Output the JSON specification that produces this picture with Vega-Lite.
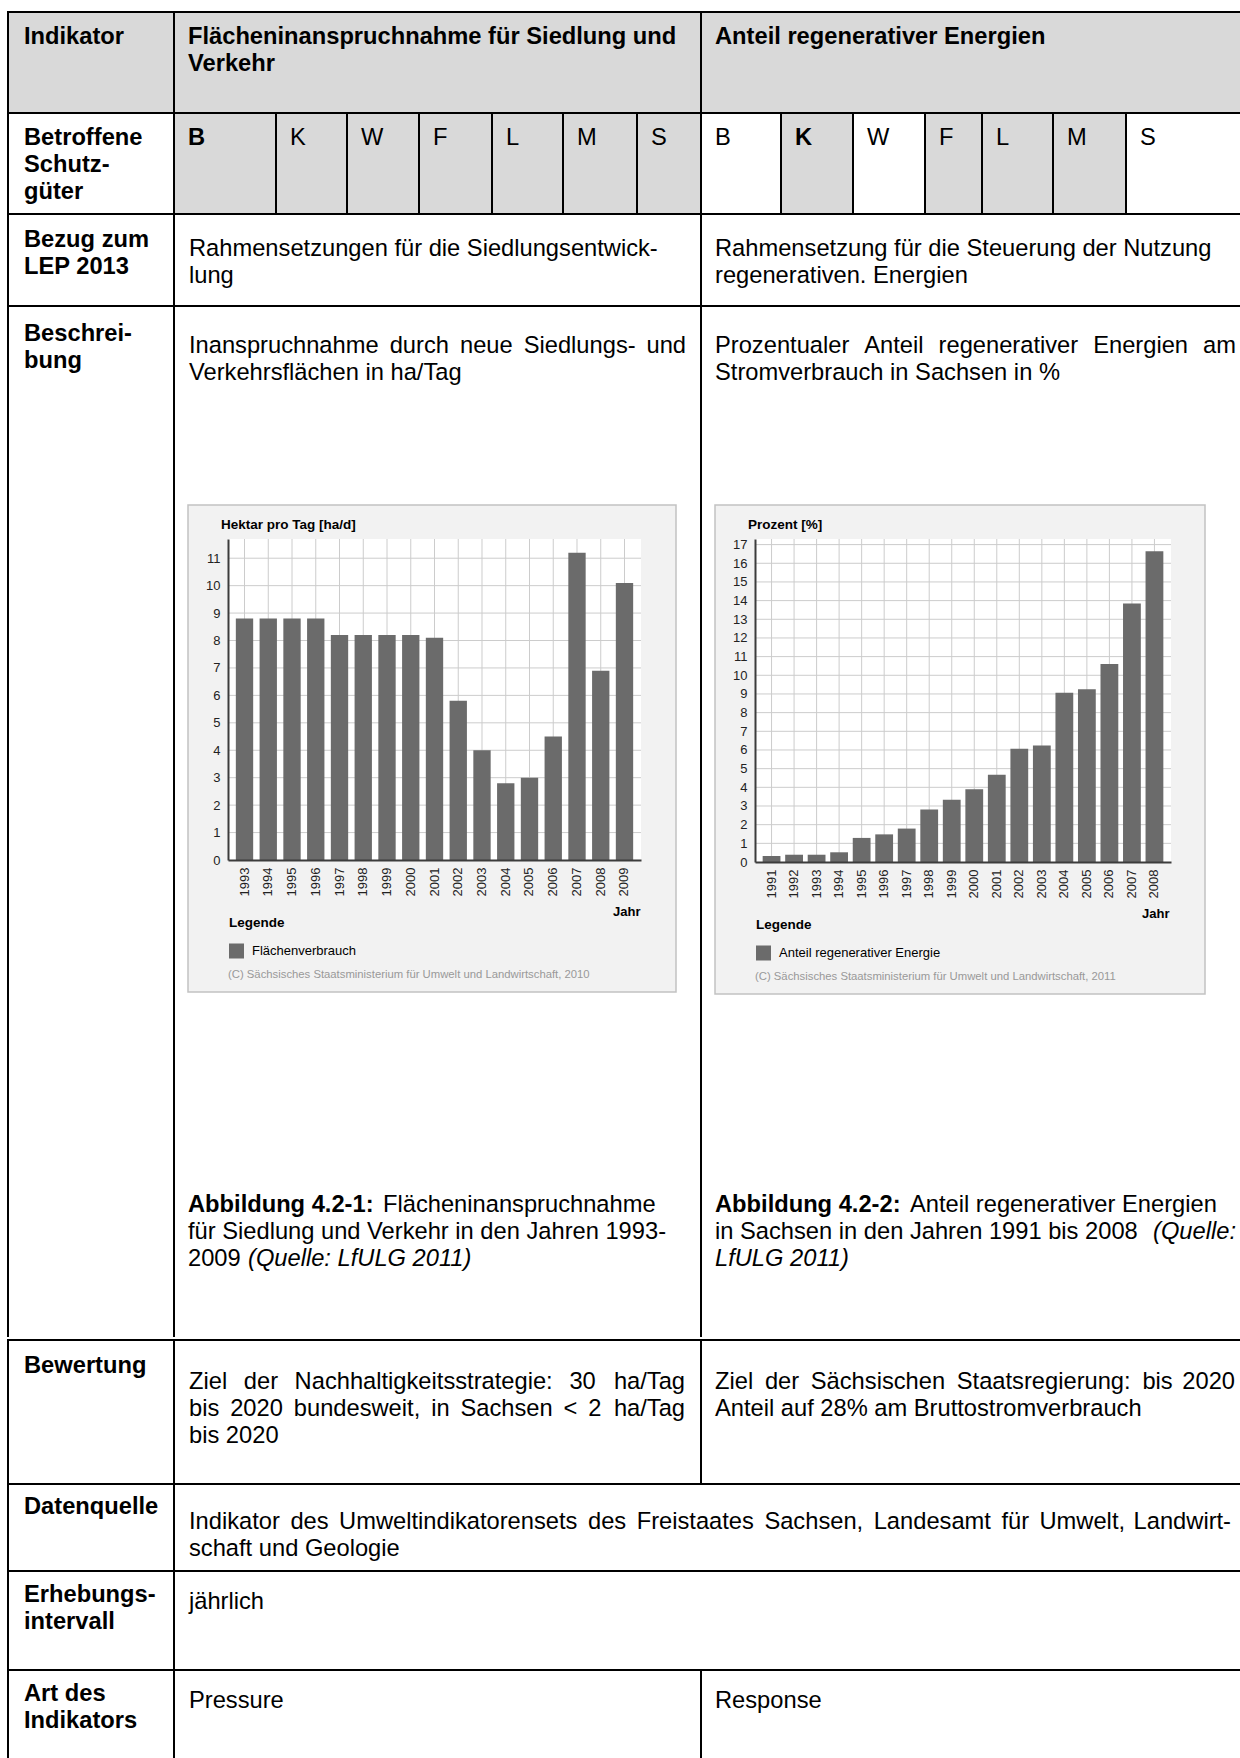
{
  "$schema": "https://vega.github.io/schema/vega-lite/v6.json",
  "background": "#ffffff",
  "padding": {"left": 7, "top": 11, "right": 0, "bottom": 0},
  "spacing": 0,
  "resolve": {"scale": {"color": "independent"}},
  "datasets": {
    "flaeche": [
      {"Jahr": "1993", "Wert": 8.8, "Reihe": "Flächenverbrauch"},
      {"Jahr": "1994", "Wert": 8.8, "Reihe": "Flächenverbrauch"},
      {"Jahr": "1995", "Wert": 8.8, "Reihe": "Flächenverbrauch"},
      {"Jahr": "1996", "Wert": 8.8, "Reihe": "Flächenverbrauch"},
      {"Jahr": "1997", "Wert": 8.2, "Reihe": "Flächenverbrauch"},
      {"Jahr": "1998", "Wert": 8.2, "Reihe": "Flächenverbrauch"},
      {"Jahr": "1999", "Wert": 8.2, "Reihe": "Flächenverbrauch"},
      {"Jahr": "2000", "Wert": 8.2, "Reihe": "Flächenverbrauch"},
      {"Jahr": "2001", "Wert": 8.1, "Reihe": "Flächenverbrauch"},
      {"Jahr": "2002", "Wert": 5.8, "Reihe": "Flächenverbrauch"},
      {"Jahr": "2003", "Wert": 4.0, "Reihe": "Flächenverbrauch"},
      {"Jahr": "2004", "Wert": 2.8, "Reihe": "Flächenverbrauch"},
      {"Jahr": "2005", "Wert": 3.0, "Reihe": "Flächenverbrauch"},
      {"Jahr": "2006", "Wert": 4.5, "Reihe": "Flächenverbrauch"},
      {"Jahr": "2007", "Wert": 11.2, "Reihe": "Flächenverbrauch"},
      {"Jahr": "2008", "Wert": 6.9, "Reihe": "Flächenverbrauch"},
      {"Jahr": "2009", "Wert": 10.1, "Reihe": "Flächenverbrauch"}
    ],
    "energie": [
      {"Jahr": "1991", "Wert": 0.32, "Reihe": "Anteil regenerativer Energie"},
      {"Jahr": "1992", "Wert": 0.39, "Reihe": "Anteil regenerativer Energie"},
      {"Jahr": "1993", "Wert": 0.39, "Reihe": "Anteil regenerativer Energie"},
      {"Jahr": "1994", "Wert": 0.52, "Reihe": "Anteil regenerativer Energie"},
      {"Jahr": "1995", "Wert": 1.29, "Reihe": "Anteil regenerativer Energie"},
      {"Jahr": "1996", "Wert": 1.48, "Reihe": "Anteil regenerativer Energie"},
      {"Jahr": "1997", "Wert": 1.79, "Reihe": "Anteil regenerativer Energie"},
      {"Jahr": "1998", "Wert": 2.81, "Reihe": "Anteil regenerativer Energie"},
      {"Jahr": "1999", "Wert": 3.33, "Reihe": "Anteil regenerativer Energie"},
      {"Jahr": "2000", "Wert": 3.9, "Reihe": "Anteil regenerativer Energie"},
      {"Jahr": "2001", "Wert": 4.67, "Reihe": "Anteil regenerativer Energie"},
      {"Jahr": "2002", "Wert": 6.07, "Reihe": "Anteil regenerativer Energie"},
      {"Jahr": "2003", "Wert": 6.24, "Reihe": "Anteil regenerativer Energie"},
      {"Jahr": "2004", "Wert": 9.07, "Reihe": "Anteil regenerativer Energie"},
      {"Jahr": "2005", "Wert": 9.25, "Reihe": "Anteil regenerativer Energie"},
      {"Jahr": "2006", "Wert": 10.6, "Reihe": "Anteil regenerativer Energie"},
      {"Jahr": "2007", "Wert": 13.85, "Reihe": "Anteil regenerativer Energie"},
      {"Jahr": "2008", "Wert": 16.65, "Reihe": "Anteil regenerativer Energie"}
    ]
  },
  "config": {
    "view": {"stroke": null},
    "concat": {"spacing": 0},
    "font": "Liberation Sans",
    "text": {"font": "Liberation Sans", "fontSize": 23.7, "align": "left", "baseline": "alphabetic", "color": "#000000", "lineHeight": 27, "lineBreak": "\n"},
    "axis": {"labelFont": "Liberation Sans", "titleFont": "Liberation Sans"},
    "legend": {"labelFont": "Liberation Sans", "titleFont": "Liberation Sans"}
  },
  "vconcat": [
    {"width": 1233, "height": 2, "view": {"fill": "#000000"}, "data": {"values": []}, "mark": "point"},
    {
      "spacing": 0,
      "hconcat": [
        {"width": 2, "height": 99, "view": {"fill": "#000000"}, "data": {"values": []}, "mark": "point"},
        {"width": 164, "height": 99, "view": {"fill": "#d9d9d9"}, "data": {"values": [{"t": "Indikator"}]}, "mark": {"type": "text", "x": 15, "y": 31, "fontWeight": "bold"}, "encoding": {"text": {"field": "t", "type": "nominal"}}},
        {"width": 2, "height": 99, "view": {"fill": "#000000"}, "data": {"values": []}, "mark": "point"},
        {"width": 525, "height": 99, "view": {"fill": "#d9d9d9"}, "data": {"values": [{"t": "Flächeninanspruchnahme für Siedlung und\nVerkehr"}]}, "mark": {"type": "text", "x": 13, "y": 31, "fontWeight": "bold"}, "encoding": {"text": {"field": "t", "type": "nominal"}}},
        {"width": 2, "height": 99, "view": {"fill": "#000000"}, "data": {"values": []}, "mark": "point"},
        {"width": 538, "height": 99, "view": {"fill": "#d9d9d9"}, "data": {"values": [{"t": "Anteil regenerativer Energien"}]}, "mark": {"type": "text", "x": 13, "y": 31, "fontWeight": "bold"}, "encoding": {"text": {"field": "t", "type": "nominal"}}}
      ]
    },
    {"width": 1233, "height": 2, "view": {"fill": "#000000"}, "data": {"values": []}, "mark": "point"},
    {
      "spacing": 0,
      "hconcat": [
        {"width": 2, "height": 99, "view": {"fill": "#000000"}, "data": {"values": []}, "mark": "point"},
        {"width": 164, "height": 99, "data": {"values": [{"t": "Betroffene\nSchutz-\ngüter"}]}, "mark": {"type": "text", "x": 15, "y": 31, "fontWeight": "bold"}, "encoding": {"text": {"field": "t", "type": "nominal"}}},
        {"width": 2, "height": 99, "view": {"fill": "#000000"}, "data": {"values": []}, "mark": "point"},
        {"width": 100, "height": 99, "view": {"fill": "#d9d9d9"}, "data": {"values": [{"t": "B"}]}, "mark": {"type": "text", "x": 13, "y": 31, "fontWeight": "bold"}, "encoding": {"text": {"field": "t", "type": "nominal"}}},
        {"width": 2, "height": 99, "view": {"fill": "#000000"}, "data": {"values": []}, "mark": "point"},
        {"width": 69, "height": 99, "view": {"fill": "#d9d9d9"}, "data": {"values": [{"t": "K"}]}, "mark": {"type": "text", "x": 13, "y": 31}, "encoding": {"text": {"field": "t", "type": "nominal"}}},
        {"width": 2, "height": 99, "view": {"fill": "#000000"}, "data": {"values": []}, "mark": "point"},
        {"width": 70, "height": 99, "view": {"fill": "#d9d9d9"}, "data": {"values": [{"t": "W"}]}, "mark": {"type": "text", "x": 13, "y": 31}, "encoding": {"text": {"field": "t", "type": "nominal"}}},
        {"width": 2, "height": 99, "view": {"fill": "#000000"}, "data": {"values": []}, "mark": "point"},
        {"width": 71, "height": 99, "view": {"fill": "#d9d9d9"}, "data": {"values": [{"t": "F"}]}, "mark": {"type": "text", "x": 13, "y": 31}, "encoding": {"text": {"field": "t", "type": "nominal"}}},
        {"width": 2, "height": 99, "view": {"fill": "#000000"}, "data": {"values": []}, "mark": "point"},
        {"width": 69, "height": 99, "view": {"fill": "#d9d9d9"}, "data": {"values": [{"t": "L"}]}, "mark": {"type": "text", "x": 13, "y": 31}, "encoding": {"text": {"field": "t", "type": "nominal"}}},
        {"width": 2, "height": 99, "view": {"fill": "#000000"}, "data": {"values": []}, "mark": "point"},
        {"width": 72, "height": 99, "view": {"fill": "#d9d9d9"}, "data": {"values": [{"t": "M"}]}, "mark": {"type": "text", "x": 13, "y": 31}, "encoding": {"text": {"field": "t", "type": "nominal"}}},
        {"width": 2, "height": 99, "view": {"fill": "#000000"}, "data": {"values": []}, "mark": "point"},
        {"width": 62, "height": 99, "view": {"fill": "#d9d9d9"}, "data": {"values": [{"t": "S"}]}, "mark": {"type": "text", "x": 13, "y": 31}, "encoding": {"text": {"field": "t", "type": "nominal"}}},
        {"width": 2, "height": 99, "view": {"fill": "#000000"}, "data": {"values": []}, "mark": "point"},
        {"width": 78, "height": 99, "data": {"values": [{"t": "B"}]}, "mark": {"type": "text", "x": 13, "y": 31}, "encoding": {"text": {"field": "t", "type": "nominal"}}},
        {"width": 2, "height": 99, "view": {"fill": "#000000"}, "data": {"values": []}, "mark": "point"},
        {"width": 70, "height": 99, "view": {"fill": "#d9d9d9"}, "data": {"values": [{"t": "K"}]}, "mark": {"type": "text", "x": 13, "y": 31, "fontWeight": "bold"}, "encoding": {"text": {"field": "t", "type": "nominal"}}},
        {"width": 2, "height": 99, "view": {"fill": "#000000"}, "data": {"values": []}, "mark": "point"},
        {"width": 70, "height": 99, "data": {"values": [{"t": "W"}]}, "mark": {"type": "text", "x": 13, "y": 31}, "encoding": {"text": {"field": "t", "type": "nominal"}}},
        {"width": 2, "height": 99, "view": {"fill": "#000000"}, "data": {"values": []}, "mark": "point"},
        {"width": 55, "height": 99, "view": {"fill": "#d9d9d9"}, "data": {"values": [{"t": "F"}]}, "mark": {"type": "text", "x": 13, "y": 31}, "encoding": {"text": {"field": "t", "type": "nominal"}}},
        {"width": 2, "height": 99, "view": {"fill": "#000000"}, "data": {"values": []}, "mark": "point"},
        {"width": 69, "height": 99, "view": {"fill": "#d9d9d9"}, "data": {"values": [{"t": "L"}]}, "mark": {"type": "text", "x": 13, "y": 31}, "encoding": {"text": {"field": "t", "type": "nominal"}}},
        {"width": 2, "height": 99, "view": {"fill": "#000000"}, "data": {"values": []}, "mark": "point"},
        {"width": 71, "height": 99, "view": {"fill": "#d9d9d9"}, "data": {"values": [{"t": "M"}]}, "mark": {"type": "text", "x": 13, "y": 31}, "encoding": {"text": {"field": "t", "type": "nominal"}}},
        {"width": 2, "height": 99, "view": {"fill": "#000000"}, "data": {"values": []}, "mark": "point"},
        {"width": 113, "height": 99, "data": {"values": [{"t": "S"}]}, "mark": {"type": "text", "x": 13, "y": 31}, "encoding": {"text": {"field": "t", "type": "nominal"}}}
      ]
    },
    {"width": 1233, "height": 2, "view": {"fill": "#000000"}, "data": {"values": []}, "mark": "point"},
    {
      "spacing": 0,
      "hconcat": [
        {"width": 2, "height": 90, "view": {"fill": "#000000"}, "data": {"values": []}, "mark": "point"},
        {"width": 164, "height": 90, "data": {"values": [{"t": "Bezug zum\nLEP 2013"}]}, "mark": {"type": "text", "x": 15, "y": 32, "fontWeight": "bold"}, "encoding": {"text": {"field": "t", "type": "nominal"}}},
        {"width": 2, "height": 90, "view": {"fill": "#000000"}, "data": {"values": []}, "mark": "point"},
        {"width": 525, "height": 90, "data": {"values": [{"t": "Rahmensetzungen für die Siedlungsentwick-\nlung"}]}, "mark": {"type": "text", "x": 14, "y": 41}, "encoding": {"text": {"field": "t", "type": "nominal"}}},
        {"width": 2, "height": 90, "view": {"fill": "#000000"}, "data": {"values": []}, "mark": "point"},
        {"width": 538, "height": 90, "data": {"values": [{"t": "Rahmensetzung für die Steuerung der Nutzung\nregenerativen. Energien"}]}, "mark": {"type": "text", "x": 13, "y": 41}, "encoding": {"text": {"field": "t", "type": "nominal"}}}
      ]
    },
    {"width": 1233, "height": 2, "view": {"fill": "#000000"}, "data": {"values": []}, "mark": "point"},
    {
      "spacing": 0,
      "resolve": {"scale": {"color": "independent"}},
      "hconcat": [
        {"width": 2, "height": 1030, "view": {"fill": "#000000"}, "data": {"values": []}, "mark": "point"},
        {"width": 164, "height": 1030, "data": {"values": [{"t": "Beschrei-\nbung"}]}, "mark": {"type": "text", "x": 15, "y": 34, "fontWeight": "bold"}, "encoding": {"text": {"field": "t", "type": "nominal"}}},
        {"width": 2, "height": 1030, "view": {"fill": "#000000"}, "data": {"values": []}, "mark": "point"},
        {
          "spacing": 0,
          "resolve": {"scale": {"color": "independent"}},
          "vconcat": [
            {
              "width": 525, "height": 197,
              "layer": [
                {"data": {"values": [{"t": "Inanspruchnahme"}]}, "mark": {"type": "text", "x": 14, "y": 46}, "encoding": {"text": {"field": "t", "type": "nominal"}}},
                {"data": {"values": [{"t": "durch"}]}, "mark": {"type": "text", "x": 214.7, "y": 46}, "encoding": {"text": {"field": "t", "type": "nominal"}}},
                {"data": {"values": [{"t": "neue"}]}, "mark": {"type": "text", "x": 285, "y": 46}, "encoding": {"text": {"field": "t", "type": "nominal"}}},
                {"data": {"values": [{"t": "Siedlungs-"}]}, "mark": {"type": "text", "x": 348.7, "y": 46}, "encoding": {"text": {"field": "t", "type": "nominal"}}},
                {"data": {"values": [{"t": "und"}]}, "mark": {"type": "text", "x": 511, "y": 46, "align": "right"}, "encoding": {"text": {"field": "t", "type": "nominal"}}},
                {"data": {"values": [{"t": "Verkehrsflächen in ha/Tag"}]}, "mark": {"type": "text", "x": 14, "y": 73}, "encoding": {"text": {"field": "t", "type": "nominal"}}}
              ]
            },
            {
              "spacing": 0,
              "bounds": "flush",
              "resolve": {"scale": {"color": "independent"}},
              "hconcat": [
                {"width": 13, "height": 487, "data": {"values": []}, "mark": "point"},
                {
                  "width": 488, "height": 487,
                  "view": {"fill": "#f2f2f2", "stroke": "#c2c2c2", "strokeWidth": 1.5},
                  "data": {"name": "flaeche"},
                  "resolve": {"axis": {"x": "independent", "y": "independent"}},
                  "layer": [
                    {"data": {"values": [{"r": "Plot"}]}, "mark": {"type": "rect", "fill": "#ffffff"}, "encoding": {"x": {"value": 40}, "x2": {"value": 453}, "y": {"datum": 0, "type": "quantitative", "axis": null}, "y2": {"datum": 11.7}}},
                    {"mark": {"type": "rule", "color": "#cccccc", "strokeWidth": 1}, "encoding": {"x": {"field": "Jahr", "type": "nominal", "axis": null}, "y": {"datum": 0, "type": "quantitative", "axis": null}, "y2": {"datum": 11.7}}},
                    {"data": {"values": [{"g": 1}, {"g": 2}, {"g": 3}, {"g": 4}, {"g": 5}, {"g": 6}, {"g": 7}, {"g": 8}, {"g": 9}, {"g": 10}, {"g": 11}]}, "mark": {"type": "rule", "color": "#cccccc", "strokeWidth": 1}, "encoding": {"y": {"field": "g", "type": "quantitative", "axis": null}, "x": {"value": 40}, "x2": {"value": 453}}},
                    {
                      "mark": {"type": "bar"},
                      "encoding": {
                        "x": {"field": "Jahr", "type": "nominal", "scale": {"range": [40, 453], "paddingInner": 0.27, "paddingOuter": 0.33},
                              "axis": {"orient": "bottom", "offset": -132, "title": "Jahr", "labelAngle": 270, "labelFontSize": 13, "labelColor": "#222222", "labelPadding": 7, "ticks": false, "domainColor": "#3c3c3c", "domainWidth": 2, "grid": false, "titleFontSize": 13, "titleFontWeight": "bold", "titleColor": "#000000", "titleAlign": "right", "titleBaseline": "alphabetic", "titleX": 452, "titleY": 55, "zindex": 1}},
                        "y": {"field": "Wert", "type": "quantitative", "scale": {"domain": [0, 11.7], "range": [355, 34], "nice": false, "zero": true},
                              "axis": {"orient": "left", "offset": -40, "values": [0, 1, 2, 3, 4, 5, 6, 7, 8, 9, 10, 11], "labelOverlap": false, "title": "Hektar pro Tag [ha/d]", "titleAngle": 0, "titleAlign": "left", "titleBaseline": "alphabetic", "titleX": -7.6, "titleY": 23.4, "titleFontSize": 13.5, "titleFontWeight": "bold", "titleColor": "#000000", "labelFontSize": 13, "labelColor": "#222222", "labelPadding": 8, "ticks": false, "domainColor": "#3c3c3c", "domainWidth": 2, "grid": false, "zindex": 1}},
                        "color": {"field": "Reihe", "type": "nominal", "scale": {"range": ["#6b6b6b"]},
                                  "legend": {"orient": "none", "legendX": 41, "legendY": 411, "title": "Legende", "titleFontSize": 13.5, "titleFontWeight": "bold", "titleColor": "#000000", "titlePadding": 14, "symbolType": "square", "symbolSize": 225, "symbolStrokeWidth": 0, "labelFontSize": 13, "labelColor": "#000000", "labelOffset": 8, "labelLimit": 400, "padding": 0}}
                      }
                    },
                    {"data": {"values": [{"c": "(C) Sächsisches Staatsministerium für Umwelt und Landwirtschaft, 2010"}]}, "mark": {"type": "text", "x": 40, "y": 473, "fontSize": 11.3, "color": "#999999", "lineHeight": 12}, "encoding": {"text": {"field": "c", "type": "nominal"}}}
                  ]
                },
                {"width": 24, "height": 487, "data": {"values": []}, "mark": "point"}
              ]
            },
            {
              "width": 525, "height": 346,
              "layer": [
                {"data": {"values": [{"t": "Abbildung 4.2-1:"}]}, "mark": {"type": "text", "x": 13, "y": 219, "fontWeight": "bold"}, "encoding": {"text": {"field": "t", "type": "nominal"}}},
                {"data": {"values": [{"t": "Flächeninanspruchnahme"}]}, "mark": {"type": "text", "x": 208, "y": 219}, "encoding": {"text": {"field": "t", "type": "nominal"}}},
                {"data": {"values": [{"t": "für Siedlung und Verkehr in den Jahren 1993-\n2009"}]}, "mark": {"type": "text", "x": 13, "y": 246}, "encoding": {"text": {"field": "t", "type": "nominal"}}},
                {"data": {"values": [{"t": "(Quelle: LfULG 2011)"}]}, "mark": {"type": "text", "x": 73, "y": 273, "fontStyle": "italic"}, "encoding": {"text": {"field": "t", "type": "nominal"}}}
              ]
            }
          ]
        },
        {"width": 2, "height": 1030, "view": {"fill": "#000000"}, "data": {"values": []}, "mark": "point"},
        {
          "spacing": 0,
          "resolve": {"scale": {"color": "independent"}},
          "vconcat": [
            {
              "width": 538, "height": 197,
              "layer": [
                {"data": {"values": [{"t": "Prozentualer"}]}, "mark": {"type": "text", "x": 13, "y": 46}, "encoding": {"text": {"field": "t", "type": "nominal"}}},
                {"data": {"values": [{"t": "Anteil"}]}, "mark": {"type": "text", "x": 162.3, "y": 46}, "encoding": {"text": {"field": "t", "type": "nominal"}}},
                {"data": {"values": [{"t": "regenerativer"}]}, "mark": {"type": "text", "x": 236.6, "y": 46}, "encoding": {"text": {"field": "t", "type": "nominal"}}},
                {"data": {"values": [{"t": "Energien"}]}, "mark": {"type": "text", "x": 391.2, "y": 46}, "encoding": {"text": {"field": "t", "type": "nominal"}}},
                {"data": {"values": [{"t": "am"}]}, "mark": {"type": "text", "x": 534, "y": 46, "align": "right"}, "encoding": {"text": {"field": "t", "type": "nominal"}}},
                {"data": {"values": [{"t": "Stromverbrauch in Sachsen in %"}]}, "mark": {"type": "text", "x": 13, "y": 73}, "encoding": {"text": {"field": "t", "type": "nominal"}}}
              ]
            },
            {
              "spacing": 0,
              "bounds": "flush",
              "resolve": {"scale": {"color": "independent"}},
              "hconcat": [
                {"width": 13, "height": 489, "data": {"values": []}, "mark": "point"},
                {
                  "width": 490, "height": 489,
                  "view": {"fill": "#f2f2f2", "stroke": "#c2c2c2", "strokeWidth": 1.5},
                  "data": {"name": "energie"},
                  "resolve": {"axis": {"x": "independent", "y": "independent"}},
                  "layer": [
                    {"data": {"values": [{"r": "Plot"}]}, "mark": {"type": "rect", "fill": "#ffffff"}, "encoding": {"x": {"value": 40}, "x2": {"value": 456}, "y": {"datum": 0, "type": "quantitative", "axis": null}, "y2": {"datum": 17.3}}},
                    {"mark": {"type": "rule", "color": "#cccccc", "strokeWidth": 1}, "encoding": {"x": {"field": "Jahr", "type": "nominal", "axis": null}, "y": {"datum": 0, "type": "quantitative", "axis": null}, "y2": {"datum": 17.3}}},
                    {"data": {"values": [{"g": 1}, {"g": 2}, {"g": 3}, {"g": 4}, {"g": 5}, {"g": 6}, {"g": 7}, {"g": 8}, {"g": 9}, {"g": 10}, {"g": 11}, {"g": 12}, {"g": 13}, {"g": 14}, {"g": 15}, {"g": 16}, {"g": 17}]}, "mark": {"type": "rule", "color": "#cccccc", "strokeWidth": 1}, "encoding": {"y": {"field": "g", "type": "quantitative", "axis": null}, "x": {"value": 40}, "x2": {"value": 456}}},
                    {
                      "mark": {"type": "bar"},
                      "encoding": {
                        "x": {"field": "Jahr", "type": "nominal", "scale": {"range": [40, 456], "paddingInner": 0.21, "paddingOuter": 0.34},
                              "axis": {"orient": "bottom", "offset": -132, "title": "Jahr", "labelAngle": 270, "labelFontSize": 13, "labelColor": "#222222", "labelPadding": 7, "ticks": false, "domainColor": "#3c3c3c", "domainWidth": 2, "grid": false, "titleFontSize": 13, "titleFontWeight": "bold", "titleColor": "#000000", "titleAlign": "right", "titleBaseline": "alphabetic", "titleX": 454, "titleY": 55, "zindex": 1}},
                        "y": {"field": "Wert", "type": "quantitative", "scale": {"domain": [0, 17.3], "range": [357, 34], "nice": false, "zero": true},
                              "axis": {"orient": "left", "offset": -40, "values": [0, 1, 2, 3, 4, 5, 6, 7, 8, 9, 10, 11, 12, 13, 14, 15, 16, 17], "labelOverlap": false, "title": "Prozent [%]", "titleAngle": 0, "titleAlign": "left", "titleBaseline": "alphabetic", "titleX": -7.6, "titleY": 23.6, "titleFontSize": 13.5, "titleFontWeight": "bold", "titleColor": "#000000", "labelFontSize": 13, "labelColor": "#222222", "labelPadding": 8, "ticks": false, "domainColor": "#3c3c3c", "domainWidth": 2, "grid": false, "zindex": 1}},
                        "color": {"field": "Reihe", "type": "nominal", "scale": {"range": ["#6b6b6b"]},
                                  "legend": {"orient": "none", "legendX": 41, "legendY": 413, "title": "Legende", "titleFontSize": 13.5, "titleFontWeight": "bold", "titleColor": "#000000", "titlePadding": 14, "symbolType": "square", "symbolSize": 225, "symbolStrokeWidth": 0, "labelFontSize": 13, "labelColor": "#000000", "labelOffset": 8, "labelLimit": 400, "padding": 0}}
                      }
                    },
                    {"data": {"values": [{"c": "(C) Sächsisches Staatsministerium für Umwelt und Landwirtschaft, 2011"}]}, "mark": {"type": "text", "x": 40, "y": 475, "fontSize": 11.3, "color": "#999999", "lineHeight": 12}, "encoding": {"text": {"field": "c", "type": "nominal"}}}
                  ]
                },
                {"width": 35, "height": 489, "data": {"values": []}, "mark": "point"}
              ]
            },
            {
              "width": 538, "height": 344,
              "layer": [
                {"data": {"values": [{"t": "Abbildung 4.2-2:"}]}, "mark": {"type": "text", "x": 13, "y": 217, "fontWeight": "bold"}, "encoding": {"text": {"field": "t", "type": "nominal"}}},
                {"data": {"values": [{"t": "Anteil regenerativer Energien"}]}, "mark": {"type": "text", "x": 208, "y": 217}, "encoding": {"text": {"field": "t", "type": "nominal"}}},
                {"data": {"values": [{"t": "in Sachsen in den Jahren 1991 bis 2008"}]}, "mark": {"type": "text", "x": 13, "y": 244}, "encoding": {"text": {"field": "t", "type": "nominal"}}},
                {"data": {"values": [{"t": "(Quelle:"}]}, "mark": {"type": "text", "x": 534, "y": 244, "align": "right", "fontStyle": "italic"}, "encoding": {"text": {"field": "t", "type": "nominal"}}},
                {"data": {"values": [{"t": "LfULG 2011)"}]}, "mark": {"type": "text", "x": 13, "y": 271, "fontStyle": "italic"}, "encoding": {"text": {"field": "t", "type": "nominal"}}}
              ]
            }
          ]
        }
      ]
    },
    {"width": 1233, "height": 2, "view": {"fill": "#000000"}, "data": {"values": []}, "mark": "point"},
    {
      "spacing": 0,
      "hconcat": [
        {"width": 2, "height": 142, "view": {"fill": "#000000"}, "data": {"values": []}, "mark": "point"},
        {"width": 164, "height": 142, "data": {"values": [{"t": "Bewertung"}]}, "mark": {"type": "text", "x": 15, "y": 32, "fontWeight": "bold"}, "encoding": {"text": {"field": "t", "type": "nominal"}}},
        {"width": 2, "height": 142, "view": {"fill": "#000000"}, "data": {"values": []}, "mark": "point"},
        {
          "width": 525, "height": 142,
          "layer": [
            {"data": {"values": [{"t": "Ziel"}]}, "mark": {"type": "text", "x": 14, "y": 48}, "encoding": {"text": {"field": "t", "type": "nominal"}}},
            {"data": {"values": [{"t": "der"}]}, "mark": {"type": "text", "x": 68.8, "y": 48}, "encoding": {"text": {"field": "t", "type": "nominal"}}},
            {"data": {"values": [{"t": "Nachhaltigkeitsstrategie:"}]}, "mark": {"type": "text", "x": 119.6, "y": 48}, "encoding": {"text": {"field": "t", "type": "nominal"}}},
            {"data": {"values": [{"t": "30"}]}, "mark": {"type": "text", "x": 394.4, "y": 48}, "encoding": {"text": {"field": "t", "type": "nominal"}}},
            {"data": {"values": [{"t": "ha/Tag"}]}, "mark": {"type": "text", "x": 510, "y": 48, "align": "right"}, "encoding": {"text": {"field": "t", "type": "nominal"}}},
            {"data": {"values": [{"t": "bis"}]}, "mark": {"type": "text", "x": 14, "y": 75}, "encoding": {"text": {"field": "t", "type": "nominal"}}},
            {"data": {"values": [{"t": "2020"}]}, "mark": {"type": "text", "x": 55.2, "y": 75}, "encoding": {"text": {"field": "t", "type": "nominal"}}},
            {"data": {"values": [{"t": "bundesweit,"}]}, "mark": {"type": "text", "x": 118.8, "y": 75}, "encoding": {"text": {"field": "t", "type": "nominal"}}},
            {"data": {"values": [{"t": "in"}]}, "mark": {"type": "text", "x": 256.2, "y": 75}, "encoding": {"text": {"field": "t", "type": "nominal"}}},
            {"data": {"values": [{"t": "Sachsen"}]}, "mark": {"type": "text", "x": 285.5, "y": 75}, "encoding": {"text": {"field": "t", "type": "nominal"}}},
            {"data": {"values": [{"t": "<"}]}, "mark": {"type": "text", "x": 388.6, "y": 75}, "encoding": {"text": {"field": "t", "type": "nominal"}}},
            {"data": {"values": [{"t": "2"}]}, "mark": {"type": "text", "x": 413.3, "y": 75}, "encoding": {"text": {"field": "t", "type": "nominal"}}},
            {"data": {"values": [{"t": "ha/Tag"}]}, "mark": {"type": "text", "x": 510, "y": 75, "align": "right"}, "encoding": {"text": {"field": "t", "type": "nominal"}}},
            {"data": {"values": [{"t": "bis 2020"}]}, "mark": {"type": "text", "x": 14, "y": 102}, "encoding": {"text": {"field": "t", "type": "nominal"}}}
          ]
        },
        {"width": 2, "height": 142, "view": {"fill": "#000000"}, "data": {"values": []}, "mark": "point"},
        {
          "width": 538, "height": 142,
          "layer": [
            {"data": {"values": [{"t": "Ziel"}]}, "mark": {"type": "text", "x": 13, "y": 48}, "encoding": {"text": {"field": "t", "type": "nominal"}}},
            {"data": {"values": [{"t": "der"}]}, "mark": {"type": "text", "x": 62.9, "y": 48}, "encoding": {"text": {"field": "t", "type": "nominal"}}},
            {"data": {"values": [{"t": "Sächsischen"}]}, "mark": {"type": "text", "x": 108.8, "y": 48}, "encoding": {"text": {"field": "t", "type": "nominal"}}},
            {"data": {"values": [{"t": "Staatsregierung:"}]}, "mark": {"type": "text", "x": 254.8, "y": 48}, "encoding": {"text": {"field": "t", "type": "nominal"}}},
            {"data": {"values": [{"t": "bis"}]}, "mark": {"type": "text", "x": 440.4, "y": 48}, "encoding": {"text": {"field": "t", "type": "nominal"}}},
            {"data": {"values": [{"t": "2020"}]}, "mark": {"type": "text", "x": 533, "y": 48, "align": "right"}, "encoding": {"text": {"field": "t", "type": "nominal"}}},
            {"data": {"values": [{"t": "Anteil auf 28% am Bruttostromverbrauch"}]}, "mark": {"type": "text", "x": 13, "y": 75}, "encoding": {"text": {"field": "t", "type": "nominal"}}}
          ]
        }
      ]
    },
    {"width": 1233, "height": 2, "view": {"fill": "#000000"}, "data": {"values": []}, "mark": "point"},
    {
      "spacing": 0,
      "hconcat": [
        {"width": 2, "height": 85, "view": {"fill": "#000000"}, "data": {"values": []}, "mark": "point"},
        {"width": 164, "height": 85, "data": {"values": [{"t": "Datenquelle"}]}, "mark": {"type": "text", "x": 15, "y": 29, "fontWeight": "bold"}, "encoding": {"text": {"field": "t", "type": "nominal"}}},
        {"width": 2, "height": 85, "view": {"fill": "#000000"}, "data": {"values": []}, "mark": "point"},
        {
          "width": 1065, "height": 85,
          "layer": [
            {"data": {"values": [{"t": "Indikator"}]}, "mark": {"type": "text", "x": 14, "y": 44}, "encoding": {"text": {"field": "t", "type": "nominal"}}},
            {"data": {"values": [{"t": "des"}]}, "mark": {"type": "text", "x": 115.4, "y": 44}, "encoding": {"text": {"field": "t", "type": "nominal"}}},
            {"data": {"values": [{"t": "Umweltindikatorensets"}]}, "mark": {"type": "text", "x": 164.1, "y": 44}, "encoding": {"text": {"field": "t", "type": "nominal"}}},
            {"data": {"values": [{"t": "des"}]}, "mark": {"type": "text", "x": 413, "y": 44}, "encoding": {"text": {"field": "t", "type": "nominal"}}},
            {"data": {"values": [{"t": "Freistaates"}]}, "mark": {"type": "text", "x": 461.7, "y": 44}, "encoding": {"text": {"field": "t", "type": "nominal"}}},
            {"data": {"values": [{"t": "Sachsen,"}]}, "mark": {"type": "text", "x": 589.4, "y": 44}, "encoding": {"text": {"field": "t", "type": "nominal"}}},
            {"data": {"values": [{"t": "Landesamt"}]}, "mark": {"type": "text", "x": 698.7, "y": 44}, "encoding": {"text": {"field": "t", "type": "nominal"}}},
            {"data": {"values": [{"t": "für"}]}, "mark": {"type": "text", "x": 826.4, "y": 44}, "encoding": {"text": {"field": "t", "type": "nominal"}}},
            {"data": {"values": [{"t": "Umwelt,"}]}, "mark": {"type": "text", "x": 864.5, "y": 44}, "encoding": {"text": {"field": "t", "type": "nominal"}}},
            {"data": {"values": [{"t": "Landwirt-"}]}, "mark": {"type": "text", "x": 1056, "y": 44, "align": "right"}, "encoding": {"text": {"field": "t", "type": "nominal"}}},
            {"data": {"values": [{"t": "schaft und Geologie"}]}, "mark": {"type": "text", "x": 14, "y": 71}, "encoding": {"text": {"field": "t", "type": "nominal"}}}
          ]
        }
      ]
    },
    {"width": 1233, "height": 2, "view": {"fill": "#000000"}, "data": {"values": []}, "mark": "point"},
    {
      "spacing": 0,
      "hconcat": [
        {"width": 2, "height": 97, "view": {"fill": "#000000"}, "data": {"values": []}, "mark": "point"},
        {"width": 164, "height": 97, "data": {"values": [{"t": "Erhebungs-\nintervall"}]}, "mark": {"type": "text", "x": 15, "y": 30, "fontWeight": "bold"}, "encoding": {"text": {"field": "t", "type": "nominal"}}},
        {"width": 2, "height": 97, "view": {"fill": "#000000"}, "data": {"values": []}, "mark": "point"},
        {"width": 1065, "height": 97, "data": {"values": [{"t": "jährlich"}]}, "mark": {"type": "text", "x": 14, "y": 37}, "encoding": {"text": {"field": "t", "type": "nominal"}}}
      ]
    },
    {"width": 1233, "height": 2, "view": {"fill": "#000000"}, "data": {"values": []}, "mark": "point"},
    {
      "spacing": 0,
      "hconcat": [
        {"width": 2, "height": 89, "view": {"fill": "#000000"}, "data": {"values": []}, "mark": "point"},
        {"width": 164, "height": 89, "data": {"values": [{"t": "Art des\nIndikators"}]}, "mark": {"type": "text", "x": 15, "y": 30, "fontWeight": "bold"}, "encoding": {"text": {"field": "t", "type": "nominal"}}},
        {"width": 2, "height": 89, "view": {"fill": "#000000"}, "data": {"values": []}, "mark": "point"},
        {"width": 525, "height": 89, "data": {"values": [{"t": "Pressure"}]}, "mark": {"type": "text", "x": 14, "y": 37}, "encoding": {"text": {"field": "t", "type": "nominal"}}},
        {"width": 2, "height": 89, "view": {"fill": "#000000"}, "data": {"values": []}, "mark": "point"},
        {"width": 538, "height": 89, "data": {"values": [{"t": "Response"}]}, "mark": {"type": "text", "x": 13, "y": 37}, "encoding": {"text": {"field": "t", "type": "nominal"}}}
      ]
    }
  ]
}
